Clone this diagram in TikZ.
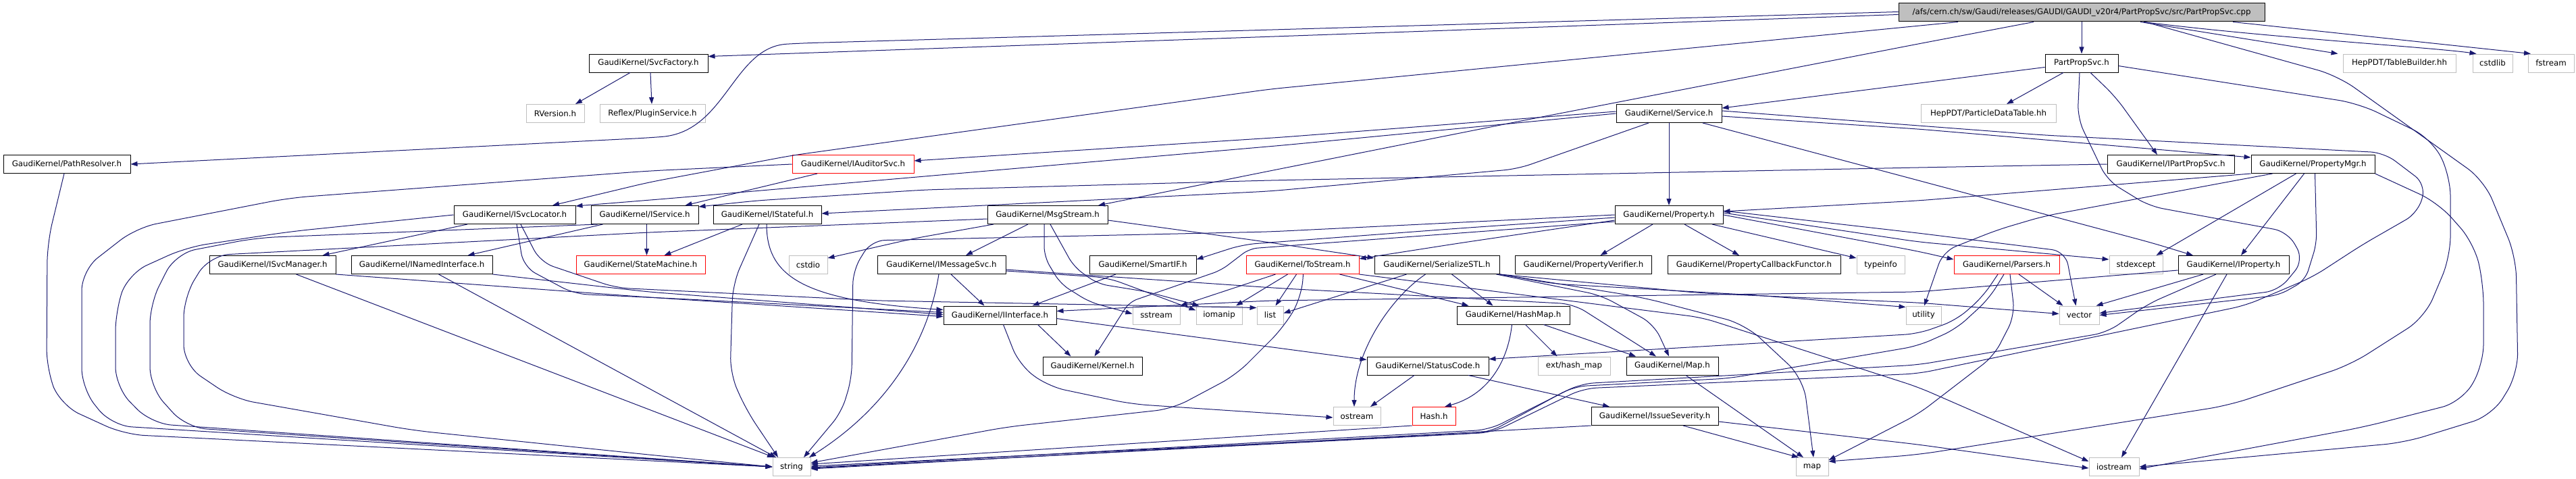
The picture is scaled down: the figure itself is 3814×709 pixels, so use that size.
\documentclass[tikz,border=0pt]{standalone}
\usepackage{fontspec}
\setmainfont{DejaVu Sans}
\usetikzlibrary{arrows.meta}
\definecolor{edgecol}{HTML}{191970}
\definecolor{extgray}{HTML}{BFBFBF}
\definecolor{rootgray}{HTML}{BFBFBF}
\definecolor{truncred}{HTML}{FF0000}
\tikzset{
  box/.style={draw=black, line width=1pt, minimum height=27pt, inner sep=0pt, font=\fontsize{11.8}{14}\selectfont, text=black},
  extbox/.style={box, draw=extgray},
  truncbox/.style={box, draw=truncred},
  rootbox/.style={box, fill=rootgray},
  conn/.style={draw=edgecol, line width=1pt, -{Triangle[length=10pt,width=7pt]}, rounded corners=20pt},
}
\begin{document}
\begin{tikzpicture}[x=1pt,y=-1pt]
\fill[white] (0,0) rectangle (3814,709);
\useasboundingbox (0,0) rectangle (3814,709);

% ---------- nodes ----------
\node[rootbox, minimum width=542pt] (root) at (3082,18.5) {/afs/cern.ch/sw/Gaudi/releases/GAUDI/GAUDI\_v20r4/PartPropSvc/src/PartPropSvc.cpp};
\node[box, minimum width=176pt] (svcfactory) at (960,93.5) {GaudiKernel/SvcFactory.h};
\node[box, minimum width=108pt] (partpropsvch) at (3082,93.5) {PartPropSvc.h};
\node[extbox, minimum width=167pt] (tablebuilder) at (3552.5,93.5) {HepPDT/TableBuilder.hh};
\node[extbox, minimum width=59pt] (cstdlib) at (3690.5,93.5) {cstdlib};
\node[extbox, minimum width=68pt] (fstream) at (3777,93.5) {fstream};
\node[extbox, minimum width=86pt] (rversion) at (822,168) {RVersion.h};
\node[extbox, minimum width=156pt] (pluginservice) at (966,168) {Reflex/PluginService.h};
\node[box, minimum width=156pt] (service) at (2471,168) {GaudiKernel/Service.h};
\node[extbox, minimum width=200pt] (particledatatable) at (2944,168) {HepPDT/ParticleDataTable.hh};
\node[box, minimum width=188pt] (pathresolver) at (99,243) {GaudiKernel/PathResolver.h};
\node[truncbox, minimum width=180pt] (iauditorsvc) at (1263,243) {GaudiKernel/IAuditorSvc.h};
\node[box, minimum width=188pt] (ipartpropsvc) at (3214,243) {GaudiKernel/IPartPropSvc.h};
\node[box, minimum width=183pt] (propertymgr) at (3424.5,243) {GaudiKernel/PropertyMgr.h};
\node[box, minimum width=180pt] (isvclocator) at (762,318) {GaudiKernel/ISvcLocator.h};
\node[box, minimum width=159pt] (iservice) at (954.5,318) {GaudiKernel/IService.h};
\node[box, minimum width=160pt] (istateful) at (1136,318) {GaudiKernel/IStateful.h};
\node[box, minimum width=178pt] (msgstream) at (1551,318) {GaudiKernel/MsgStream.h};
\node[box, minimum width=160pt] (property) at (2471,318) {GaudiKernel/Property.h};
\node[box, minimum width=187pt] (isvcmanager) at (403.5,392) {GaudiKernel/ISvcManager.h};
\node[box, minimum width=209pt] (inamedinterface) at (624.5,392) {GaudiKernel/INamedInterface.h};
\node[truncbox, minimum width=191pt] (statemachine) at (948.5,392) {GaudiKernel/StateMachine.h};
\node[extbox, minimum width=57pt] (cstdio) at (1196.5,392) {cstdio};
\node[box, minimum width=190pt] (imessagesvc) at (1394,392) {GaudiKernel/IMessageSvc.h};
\node[box, minimum width=158pt] (smartif) at (1692,392) {GaudiKernel/SmartIF.h};
\node[truncbox, minimum width=167pt] (tostream) at (1928.5,392) {GaudiKernel/ToStream.h};
\node[box, minimum width=185pt] (serializestl) at (2127.5,392) {GaudiKernel/SerializeSTL.h};
\node[box, minimum width=202pt] (propertyverifier) at (2344.5,392) {GaudiKernel/PropertyVerifier.h};
\node[box, minimum width=256pt] (propertycallback) at (2597,392) {GaudiKernel/PropertyCallbackFunctor.h};
\node[extbox, minimum width=71pt] (typeinfo) at (2784.5,392) {typeinfo};
\node[truncbox, minimum width=156pt] (parsers) at (2971,392) {GaudiKernel/Parsers.h};
\node[extbox, minimum width=79pt] (stdexcept) at (3162.5,392) {stdexcept};
\node[box, minimum width=164pt] (iproperty) at (3307,392) {GaudiKernel/IProperty.h};
\node[box, minimum width=167pt] (iinterface) at (1480.5,466.5) {GaudiKernel/IInterface.h};
\node[extbox, minimum width=70pt] (sstream) at (1712,466.5) {sstream};
\node[extbox, minimum width=68pt] (iomanip) at (1805,466.5) {iomanip};
\node[extbox, minimum width=39pt] (list) at (1880.5,466.5) {list};
\node[box, minimum width=167pt] (hashmap) at (2240.5,466.5) {GaudiKernel/HashMap.h};
\node[extbox, minimum width=52pt] (utility) at (2848,466.5) {utility};
\node[extbox, minimum width=59pt] (vector) at (3078.5,466.5) {vector};
\node[box, minimum width=147pt] (kernel) at (1617.5,541.5) {GaudiKernel/Kernel.h};
\node[box, minimum width=180pt] (statuscode) at (2114,541.5) {GaudiKernel/StatusCode.h};
\node[extbox, minimum width=107pt] (hashmapext) at (2330.5,541.5) {ext/hash\_map};
\node[box, minimum width=136pt] (maph) at (2476,541.5) {GaudiKernel/Map.h};
\node[extbox, minimum width=70pt] (ostream) at (2009,616) {ostream};
\node[truncbox, minimum width=64pt] (hash) at (2123,616) {Hash.h};
\node[box, minimum width=188pt] (issueseverity) at (2450,616) {GaudiKernel/IssueSeverity.h};
\node[extbox, minimum width=56pt] (string) at (1172,691) {string};
\node[extbox, minimum width=48pt] (map) at (2683,691) {map};
\node[extbox, minimum width=74pt] (iostream) at (3130,691) {iostream};

% ---------- root ----------
\draw[conn] ([yshift=-3pt]root.west) -- ([yshift=-4pt]svcfactory.north east);
\draw[conn] ([yshift=1pt]root.west) -- (1185,64) .. controls (1085,70) and (1075,195) .. (960,204) -- (pathresolver.east);
\draw[conn] ([xshift=-183pt]root.south) -- (1880,132) -- (1173,230) -- (960,270) -- ([xshift=56pt]isvclocator.north);
\draw[conn] ([xshift=-71pt]root.south) -- (2840,65) -- (2247,180) -- (1880,253) -- ([xshift=75pt]msgstream.north);
\draw[conn] (root) -- (partpropsvch);
\draw[conn] ([xshift=87pt]root.south) -- ([xshift=-91pt]tablebuilder.north);
\draw[conn] ([xshift=92pt]root.south) .. controls (3350,55) and (3600,70) .. ([xshift=6pt]cstdlib.north west);
\draw[conn] ([xshift=224pt]root.south) -- ([xshift=-30pt]fstream.north);
\draw[conn,rounded corners=30pt] ([xshift=94pt]root.south) -- (3461,112) -- (3678,267) -- (3725,380) -- (3728,553) -- (3690,615) -- (3560,655) -- (iostream.east);

% ---------- SvcFactory ----------
\draw[conn] ([xshift=-27pt]svcfactory.south) -- ([xshift=30pt]rversion.north);
\draw[conn] ([xshift=3pt]svcfactory.south) -- ([xshift=-1pt]pluginservice.north);

% ---------- PartPropSvc.h ----------
\draw[conn] ([yshift=-6pt]partpropsvch.west) -- ([yshift=8pt]service.east);
\draw[conn] ([xshift=-27pt]partpropsvch.south) -- ([xshift=27pt]particledatatable.north);
\draw[conn] ([xshift=13pt]partpropsvch.south) -- (3132,143) -- ([xshift=-20pt]ipartpropsvc.north);
\draw[conn] ([xshift=-3pt]partpropsvch.south) -- (3076,175) -- (3120,267) -- (3182,305) -- (3387,343) -- (3411,385) -- (3374,430) -- ([yshift=3pt]vector.east);
\draw[conn,rounded corners=30pt] ([yshift=-4pt]partpropsvch.east) -- (3492,153) -- (3600,205) -- (3628,260) -- (3628,380) -- (3590,470) -- (3480,540) -- (3300,600) -- (2840,673) -- ([yshift=8pt]map.east);

% ---------- IPartPropSvc.h ----------
\draw[conn] (ipartpropsvc.west) -- (2840,248) -- (1880,267) -- (1369,281) -- (1120,297) -- ([yshift=12pt]iservice.east);

% ---------- Service.h ----------
\draw[conn] ([yshift=3pt]service.west) -- (1900,203) -- ([yshift=5pt]iauditorsvc.east);
\draw[conn] (service.west) -- (1900,215) -- (1000,293) -- ([yshift=13pt]isvclocator.east);
\draw[conn] ([xshift=-30pt]service.south) -- (2247,250) -- (1880,283) -- (1640,295) -- ([yshift=2pt]istateful.east);
\draw[conn] (service) -- (property);
\draw[conn] ([yshift=-4pt]service.east) -- (2840,191) -- ([yshift=10pt]propertymgr.west);
\draw[conn] ([xshift=50pt]service.south) -- (2840,267) -- (3188,360) -- ([xshift=-60pt]iproperty.north);
\draw[conn] ([yshift=4pt]service.east) -- (3026,200) -- (3530,226) -- (3592,273) -- (3580,315) -- (3498,362) -- (3424,410) -- (3325,452) -- (2840,553) -- (2344,575) -- (2210,640) -- ([yshift=-2pt]string.east);

% ---------- Property.h ----------
\draw[conn] ([xshift=-24pt]property.south) -- ([xshift=25pt]propertyverifier.north);
\draw[conn] ([xshift=23pt]property.south) -- ([xshift=-22pt]propertycallback.north);
\draw[conn] ([xshift=64pt]property.south) -- ([yshift=-4pt]typeinfo.north west);
\draw[conn] (property.east) -- (2840,372) -- ([yshift=8pt]parsers.west);
\draw[conn] ([yshift=3pt]property.east) -- (2840,358) -- ([yshift=8pt]stdexcept.west);
\draw[conn] ([yshift=6pt]property.east) -- (2840,345) -- (3058,372) -- ([xshift=-5pt]vector.north);
\draw[conn] ([yshift=-8pt]property.west) -- (2160,360) -- ([yshift=9pt]tostream.east);
\draw[conn] ([yshift=-4pt]property.west) -- (2160,338) -- (1840,362) -- ([yshift=8pt]smartif.east);
\draw[conn] (property.west) -- (1880,343) -- (1290,356) -- (1263,400) -- (1261,560) -- (1246,610) -- ([xshift=18pt]string.north);
\draw[conn,rounded corners=12pt] ([yshift=-10pt]property.west) -- (1850,368) -- (1808,400) -- (1672,447) -- ([xshift=3pt]kernel.north);

% ---------- PropertyMgr.h ----------
\draw[conn] (propertymgr.south west) -- (2840,297) -- ([yshift=5pt]property.east);
\draw[conn] ([xshift=-25pt]propertymgr.south) -- ([xshift=30pt]stdexcept.north);
\draw[conn] ([xshift=-13pt]propertymgr.south) -- ([xshift=11pt]iproperty.north);
\draw[conn,rounded corners=15pt] ([xshift=3pt]propertymgr.south) -- (3430,360) -- (3413,415) -- (3374,437) -- (vector.east);
\draw[conn,rounded corners=30pt] (propertymgr.south east) -- (3610,300) -- (3663,360) -- (3677,420) -- (3677,540) -- (3645,595) -- (3500,632) -- ([yshift=-3pt]iostream.east);
\draw[conn] ([xshift=-60pt]propertymgr.south) -- (3026,320) -- (2958,340) -- (2877,372) -- ([xshift=1pt]utility.north);

% ---------- Parsers.h ----------
\draw[conn] ([xshift=18pt]parsers.south) -- ([xshift=-24pt]vector.north);
\draw[conn] ([xshift=-13pt]parsers.south) -- (2935,440) -- (2896,474) -- (2840,494) -- ([yshift=10pt]statuscode.east);
\draw[conn] ([xshift=5pt]parsers.south) -- (2983,467) -- (2952,527) -- (2840,613) -- ([yshift=10pt]map.east);
\draw[conn] ([xshift=-4pt]parsers.south) -- (2945,442) -- (2896,487) -- (2840,512) -- (2560,560) -- (2330,572) -- (2205,640) -- ([yshift=1pt]string.east);

% ---------- IProperty.h ----------
\draw[conn] ([yshift=-8pt]iproperty.west) -- (2840,432) -- (1880,445) -- ([yshift=6pt]iinterface.east);
\draw[conn] ([xshift=-45pt]iproperty.south) -- ([xshift=25pt]vector.north);
\draw[conn] ([xshift=-26pt]iproperty.south) -- (3180,450) -- (3120,492) -- (2840,540) -- (2340,568) -- (2205,636) -- ([yshift=-1pt]string.east);
\draw[conn] ([xshift=-10pt]iproperty.south) -- ([xshift=11pt]iostream.north);

% ---------- IStateful.h ----------
\draw[conn] ([xshift=-37pt]istateful.south) -- ([xshift=35pt]statemachine.north);
\draw[conn] ([xshift=-1pt]istateful.south) .. controls (1135,410) and (1190,445) .. ([yshift=8pt]iinterface.west);
\draw[conn,rounded corners=25pt] ([xshift=-12pt]istateful.south) -- (1085,420) -- (1081,553) -- (1105,607) -- ([xshift=-20pt]string.north);

% ---------- IService.h ----------
\draw[conn] ([xshift=3pt]iservice.south) -- ([xshift=9pt]statemachine.north);
\draw[conn] ([xshift=-62pt]iservice.south) -- ([xshift=68pt]inamedinterface.north);
\draw[conn,rounded corners=30pt] ([xshift=10pt]iservice.south west) -- (380,352) -- (260,375) -- (222,450) -- (222,573) -- (276,633) -- (string.west);

% ---------- ISvcLocator.h ----------
\draw[conn] ([xshift=-70pt]isvclocator.south) -- ([xshift=74pt]isvcmanager.north);
\draw[conn] ([xshift=3pt]isvclocator.south) -- (775,395) -- (850,435) -- (1000,442) -- ([yshift=4pt]iinterface.west);
\draw[conn] ([xshift=9pt]isvclocator.south) -- (800,388) -- (912,426) -- (1300,445) -- ([yshift=11pt]list.west);
\draw[conn,rounded corners=30pt] (isvclocator.west) -- (428,343) -- (276,366) -- (190,405) -- (171,460) -- (171,573) -- (224,627) -- (string.west);

% ---------- ISvcManager.h / INamedInterface.h ----------
\draw[conn] (isvcmanager.south east) -- (960,440) -- ([yshift=-2pt]iinterface.west);
\draw[conn] ([xshift=35pt]isvcmanager.south) -- ([xshift=-26pt]string.north);
\draw[conn] (inamedinterface.south east) -- (960,432) -- ([yshift=1pt]iinterface.west);
\draw[conn] ([xshift=25pt]inamedinterface.south) -- ([xshift=-23pt]string.north);

% ---------- IAuditorSvc.h / PathResolver.h ----------
\draw[conn] ([xshift=-53pt]iauditorsvc.south) -- ([xshift=60pt]iservice.north);
\draw[conn,rounded corners=30pt] (iauditorsvc.west) -- (960,253) -- (428,293) -- (202,337) -- (121,400) -- (121,575) -- (165,630) -- (string.west);
\draw[conn,rounded corners=30pt] ([xshift=-4pt]pathresolver.south) -- (70,360) -- (69,547) -- (90,600) -- (184,643) -- (string.west);

% ---------- MsgStream.h ----------
\draw[conn] ([xshift=-80pt]msgstream.south) -- (1353,353) -- ([yshift=10pt]cstdio.east);
\draw[conn] ([xshift=-29pt]msgstream.south) -- ([xshift=36pt]imessagesvc.north);
\draw[conn] ([yshift=-8pt]msgstream.east) -- (1860,356) -- ([yshift=10pt]serializestl.west);
\draw[conn,rounded corners=15pt] ([xshift=-5pt]msgstream.south) -- (1546,380) -- (1570,420) -- (1613,447) -- ([yshift=2pt]sstream.west);
\draw[conn,rounded corners=15pt] ([xshift=4pt]msgstream.south) -- (1590,395) -- (1625,420) -- (1699,432) -- ([xshift=5pt]iomanip.north west);
\draw[conn,rounded corners=30pt] ([yshift=-6pt]msgstream.west) -- (960,344) -- (310,378) -- (272,440) -- (272,540) -- (346,590) -- (612,637) -- (960,673) -- (string.west);

% ---------- IMessageSvc.h / SmartIF.h ----------
\draw[conn] ([xshift=14pt]imessagesvc.south) -- ([xshift=-23pt]iinterface.north);
\draw[conn] ([xshift=-4pt]imessagesvc.south) .. controls (1375,500) and (1320,600) .. ([xshift=26pt]string.north);
\draw[conn] ([yshift=-9pt]imessagesvc.east) -- (1640,411) -- ([yshift=7pt]iomanip.west);
\draw[conn] ([yshift=-7pt]imessagesvc.east) -- (1900,427) -- (2330,450) -- ([xshift=-24pt]maph.north);
\draw[conn] ([xshift=-40pt]smartif.south) -- ([xshift=48pt]iinterface.north);

% ---------- ToStream.h ----------
\draw[conn] ([xshift=-40pt]tostream.south) -- (sstream.north east);
\draw[conn] ([xshift=-22pt]tostream.south) -- ([xshift=25pt]iomanip.north);
\draw[conn] ([xshift=-9pt]tostream.south) -- ([xshift=8pt]list.north);
\draw[conn,rounded corners=25pt] ([xshift=1pt]tostream.south) -- (1927,440) -- (1900,485) -- (1830,555) -- (1736,605) -- (1491,632) -- ([yshift=6pt]string.east);
\draw[conn] ([xshift=55pt]tostream.south) -- ([xshift=-66pt]hashmap.north);
\draw[conn] (tostream.south east) -- (2520,470) -- (2840,573) -- ([yshift=8pt]iostream.west);

% ---------- SerializeSTL.h ----------
\draw[conn] ([xshift=-45pt]serializestl.south) -- ([yshift=3pt]list.east);
\draw[conn] ([xshift=-17pt]serializestl.south) .. controls (2060,440) and (2005,520) .. ([xshift=-4pt]ostream.north);
\draw[conn] ([xshift=22pt]serializestl.south) -- ([xshift=-30pt]hashmap.north);
\draw[conn] ([xshift=-5pt]serializestl.south east) -- (2370,437) -- (2449,480) -- ([xshift=-5pt]maph.north);
\draw[conn,rounded corners=30pt] (serializestl.south east) -- (2431,440) -- (2584,480) -- (2670,560) -- ([xshift=2pt]map.north);
\draw[conn] (serializestl.south east) -- (2520,434) -- (2840,448) -- ([yshift=2pt]vector.west);
\draw[conn] (serializestl.south east) -- (2300,420) -- (2600,437) -- ([yshift=-2pt]utility.north west);

% ---------- HashMap.h ----------
\draw[conn] ([xshift=18pt]hashmap.south) -- ([xshift=-25pt]hashmapext.north);
\draw[conn] ([xshift=45pt]hashmap.south) -- ([xshift=-54pt]maph.north);
\draw[conn] ([xshift=-2pt]hashmap.south) .. controls (2232,540) and (2200,585) .. ([xshift=16pt]hash.north);

% ---------- IInterface.h ----------
\draw[conn] ([xshift=56pt]iinterface.south) -- ([xshift=-32pt]kernel.north);
\draw[conn] ([yshift=-5pt]iinterface.east) -- ([yshift=9pt]statuscode.west);
\draw[conn,rounded corners=25pt] ([xshift=5pt]iinterface.south) -- (1509,540) -- (1552,572) -- (1675,598) -- (1900,613) -- ([yshift=-2pt]ostream.west);

% ---------- StatusCode.h / Map.h / IssueSeverity.h / Hash.h ----------
\draw[conn] ([xshift=-20pt]statuscode.south) -- ([xshift=20pt]ostream.north);
\draw[conn] ([xshift=60pt]statuscode.south) -- ([xshift=-67pt]issueseverity.north);
\draw[conn] ([xshift=20pt]maph.south) -- ([xshift=-13pt]map.north);
\draw[conn] ([xshift=42pt]issueseverity.south) -- ([xshift=-20pt]map.north);
\draw[conn] (issueseverity.south west) -- ([yshift=-3pt]string.east);
\draw[conn] ([yshift=-8pt]issueseverity.east) -- (2840,658) -- ([yshift=-2pt]iostream.west);
\draw[conn] (hash.south west) -- ([yshift=4pt]string.east);
\end{tikzpicture}
\end{document}
